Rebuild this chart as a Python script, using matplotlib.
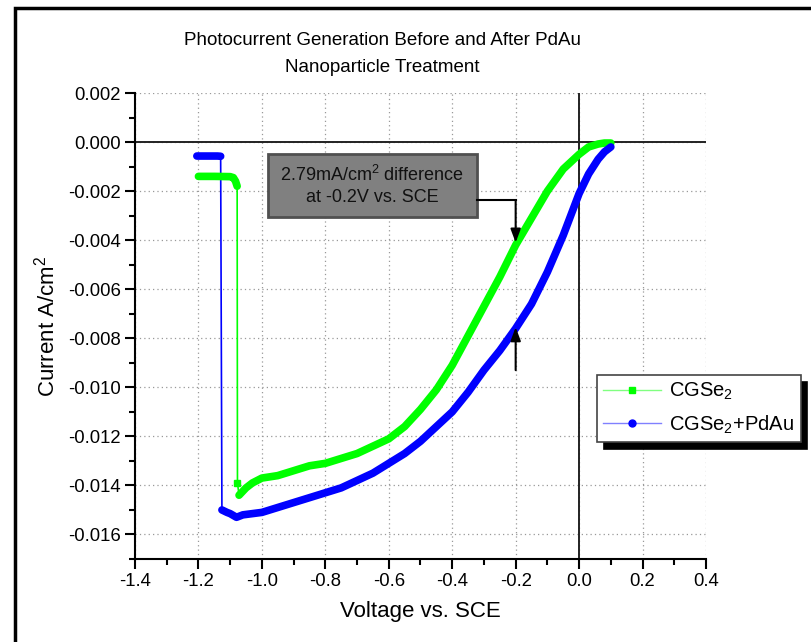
import matplotlib
matplotlib.use("Agg")
import matplotlib.pyplot as plt
from matplotlib.lines import Line2D
from matplotlib.patches import Rectangle

plt.rcParams['font.family'] = ['Liberation Sans', 'DejaVu Sans']
plt.rcParams['mathtext.fontset'] = 'custom'
plt.rcParams['mathtext.rm'] = 'Liberation Sans'
plt.rcParams['mathtext.it'] = 'Liberation Sans'
plt.rcParams['axes.unicode_minus'] = False

# CGSe2 (before treatment)
green_v_top = [-1.200, -1.150, -1.100, -1.090, -1.083, -1.078]
green_i_top = [-0.00140, -0.00140, -0.00141, -0.00145, -0.00160, -0.00180]
green_v_main = [-1.077, -1.072, -1.05, -1.03, -1.00, -0.95, -0.90, -0.85, -0.80,
                -0.75, -0.70, -0.65, -0.60, -0.55, -0.50, -0.45, -0.40, -0.35,
                -0.30, -0.25, -0.20, -0.15, -0.10, -0.05, 0.00, 0.03, 0.06, 0.08, 0.10]
green_i_main = [-0.0139, -0.0144, -0.0141, -0.0139, -0.0137, -0.0136, -0.0134, -0.0132, -0.0131,
                -0.0129, -0.0127, -0.0124, -0.0121, -0.0116, -0.0109, -0.0101, -0.0091, -0.0079,
                -0.0067, -0.0055, -0.0042, -0.0031, -0.0020, -0.0011, -0.0005, -0.0002, -0.00008, -0.00004, -0.00004]

# CGSe2 + PdAu (after treatment)
blue_v_top = [-1.205, -1.170, -1.140, -1.130]
blue_i_top = [-0.00057, -0.00057, -0.00057, -0.00058]
blue_v_main = [-1.126, -1.11, -1.10, -1.08, -1.06, -1.00, -0.95, -0.90, -0.85, -0.80,
               -0.75, -0.70, -0.65, -0.60, -0.55, -0.50, -0.45, -0.40, -0.35, -0.30,
               -0.25, -0.20, -0.15, -0.10, -0.05, 0.00, 0.03, 0.06, 0.08, 0.10]
blue_i_main = [-0.0150, -0.0151, -0.01515, -0.0153, -0.0152, -0.0151, -0.0149, -0.0147, -0.0145, -0.0143,
               -0.0141, -0.0138, -0.0135, -0.0131, -0.0127, -0.0122, -0.0116, -0.0110, -0.0102, -0.0093,
               -0.0085, -0.0076, -0.0066, -0.0053, -0.0038, -0.0021, -0.0013, -0.0007, -0.0004, -0.0002]

green = '#00ff00'
blue = '#0000ff'

fig = plt.figure(figsize=(8.12, 6.42), dpi=100)
ax = fig.add_axes([135/812, 1-559/642, (706-135)/812, (559-93)/642])

# thin connecting lines (the jumps), then thick dense-marker traces
ax.plot(green_v_top + green_v_main, green_i_top + green_i_main, color=green, lw=1.2, zorder=3)
ax.plot(blue_v_top + blue_v_main, blue_i_top + blue_i_main, color=blue, lw=1.2, zorder=3)
for v, i, c in [(green_v_top, green_i_top, green), (green_v_main[1:], green_i_main[1:], green),
                (blue_v_top, blue_i_top, blue), (blue_v_main, blue_i_main, blue)]:
    ax.plot(v, i, color=c, lw=5.5, solid_capstyle='round', solid_joinstyle='round', zorder=4)
ax.plot(green_v_main[0], green_i_main[0], 's', color=green, ms=5, zorder=4)

ax.set_xlim(-1.4, 0.4)
ax.set_ylim(-0.017, 0.002)
ax.set_xticks([-1.4, -1.2, -1.0, -0.8, -0.6, -0.4, -0.2, 0.0, 0.2, 0.4])
ax.set_xticks([-1.3, -1.1, -0.9, -0.7, -0.5, -0.3, -0.1, 0.1, 0.3], minor=True)
yt = [0.002, 0.000, -0.002, -0.004, -0.006, -0.008, -0.010, -0.012, -0.014, -0.016]
ax.set_yticks(yt)
ax.set_yticks([0.001, -0.001, -0.003, -0.005, -0.007, -0.009, -0.011, -0.013, -0.015, -0.017], minor=True)
ax.set_xticklabels(['%.1f' % t for t in ax.get_xticks()])
ax.set_yticklabels(['%.3f' % t for t in yt])
ax.tick_params(which='major', direction='out', length=7, width=1.5, labelsize=13.3, pad=3)
ax.tick_params(which='minor', direction='out', length=4.5, width=1.5)
ax.grid(True, which='major', linestyle=(0, (1, 2.5)), color='#999999', lw=0.9)
for s in ['top', 'right']:
    ax.spines[s].set_visible(False)
for s in ['left', 'bottom']:
    ax.spines[s].set_linewidth(1.5)
ax.axhline(0, color='#222222', lw=1.4, zorder=2)
ax.axvline(0, color='#222222', lw=1.4, zorder=2)

ax.set_xlabel('Voltage vs. SCE', fontsize=16, labelpad=8)
ax.set_ylabel('Current A/cm$^2$', fontsize=16, labelpad=6)

fig.text(382/812, 1-54/642, 'Photocurrent Generation Before and After PdAu\nNanoparticle Treatment',
         ha='center', va='center', fontsize=13.5, linespacing=1.75)

# annotation box and arrows
ax.add_patch(Rectangle((-0.981, -0.00306), 0.659, 0.00257, facecolor='#808080',
                       edgecolor='#505050', lw=2, zorder=5))
ax.text(-0.6515, -0.00177, '2.79mA/cm$^2$ difference\nat -0.2V vs. SCE', ha='center', va='center',
        fontsize=13, color='#111111', zorder=6, linespacing=1.3)
ax.plot([-0.322, -0.2], [-0.00237, -0.00237], color='black', lw=1.5, zorder=5)
ax.annotate('', xy=(-0.2, -0.0041), xytext=(-0.2, -0.00237),
            arrowprops=dict(arrowstyle='-|>,head_length=0.8,head_width=0.3', color='black', lw=1.5,
                            shrinkA=0, shrinkB=0), zorder=5)
ax.annotate('', xy=(-0.2, -0.00755), xytext=(-0.2, -0.0093),
            arrowprops=dict(arrowstyle='-|>,head_length=0.8,head_width=0.3', color='black', lw=1.5,
                            shrinkA=0, shrinkB=0), zorder=5)

handles = [Line2D([], [], color='#80ff80', lw=1, marker='s', ms=5, mfc=green, mec=green),
           Line2D([], [], color='#8080ff', lw=1, marker='o', ms=5, mfc=blue, mec=blue)]
leg = ax.legend(handles, ['CGSe$_2$', 'CGSe$_2$+PdAu'], loc='upper left',
                bbox_to_anchor=(597/812, 1-375/642), bbox_transform=fig.transFigure,
                fontsize=14.5, frameon=True, fancybox=False, edgecolor='#444444', framealpha=1,
                shadow={'color': 'black', 'alpha': 1, 'ox': 5, 'oy': -5},
                handlelength=2.9, handletextpad=0.4, borderpad=0.3, labelspacing=0.55,
                borderaxespad=0)
leg.get_frame().set_linewidth(1.2)

# outer frame
fig.patches.append(Rectangle((15/812, -0.05), 1.0, 1.05-8/642, transform=fig.transFigure,
                             fill=False, edgecolor='black', lw=2.5))

fig.savefig('out.png', dpi=100)
